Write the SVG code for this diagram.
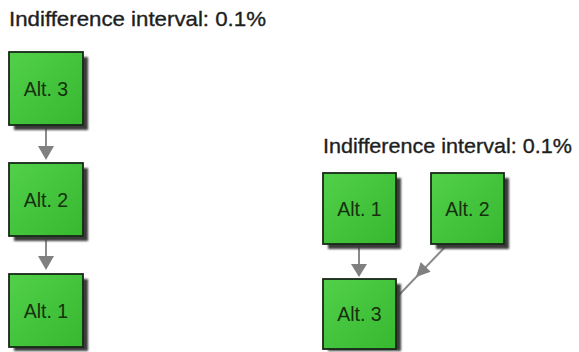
<svg xmlns="http://www.w3.org/2000/svg" width="579" height="352" viewBox="0 0 579 352">
<style>
.title{font-family:"Liberation Sans",Arial,sans-serif;font-size:21px;fill:#1e1e1e;stroke:#1e1e1e;stroke-width:0.35;}
.box{fill:url(#g);stroke:#182818;stroke-width:1.8;}
.shadow{fill:#3a3a3a;filter:url(#blur);}
.lbl{font-family:"Liberation Sans",Arial,sans-serif;font-size:19.5px;fill:#16300f;text-anchor:middle;}
.edge{stroke:#8a8a8a;stroke-width:2;fill:none;}
.head{fill:#808080;}
</style>
<defs>
<linearGradient id="g" x1="0" y1="0" x2="1" y2="1">
<stop offset="0" stop-color="#52d04a"/>
<stop offset="1" stop-color="#36b82f"/>
</linearGradient>
<filter id="blur" x="-20%" y="-20%" width="140%" height="140%"><feGaussianBlur stdDeviation="1"/></filter>
</defs>
<rect width="579" height="352" fill="#ffffff"/>
<text class="title" x="9" y="25.5" textLength="257" lengthAdjust="spacingAndGlyphs">Indifference interval: 0.1%</text>
<text class="title" x="323" y="152.5" textLength="249" lengthAdjust="spacingAndGlyphs">Indifference interval: 0.1%</text>
<g id="connectors">
<line class="edge" x1="46" y1="125" x2="46" y2="148"/>
<polygon class="head" points="38,146 54,146 46,160"/>
<line class="edge" x1="46" y1="237" x2="46" y2="258"/>
<polygon class="head" points="38,256 54,256 46,270"/>
<line class="edge" x1="359" y1="244" x2="359" y2="266"/>
<polygon class="head" points="351,264 367,264 359,277"/>
<line class="edge" x1="446" y1="246" x2="398" y2="296" stroke-width="1.6"/>
<polygon class="head" points="416,277 430.7,271.8 420.7,262"/>
</g>
<g id="left-alt3">
<rect class="shadow" x="14" y="57" width="74" height="73"/>
<rect class="box" x="9" y="52" width="74" height="73"/>
<text class="lbl" x="46" y="95.5">Alt. 3</text>
</g>
<g id="left-alt2">
<rect class="shadow" x="14" y="168" width="74" height="73"/>
<rect class="box" x="9" y="163" width="74" height="73"/>
<text class="lbl" x="46" y="206.5">Alt. 2</text>
</g>
<g id="left-alt1">
<rect class="shadow" x="14" y="279" width="74" height="72"/>
<rect class="box" x="9" y="274" width="74" height="73"/>
<text class="lbl" x="46" y="317.5">Alt. 1</text>
</g>
<g id="right-alt1">
<rect class="shadow" x="328" y="178" width="73" height="71"/>
<rect class="box" x="323" y="173" width="73" height="71"/>
<text class="lbl" x="359.5" y="215.5">Alt. 1</text>
</g>
<g id="right-alt2">
<rect class="shadow" x="436" y="178" width="73" height="71"/>
<rect class="box" x="431" y="173" width="73" height="71"/>
<text class="lbl" x="467.5" y="215.5">Alt. 2</text>
</g>
<g id="right-alt3">
<rect class="shadow" x="328" y="284" width="73" height="67"/>
<rect class="box" x="323" y="279" width="73" height="70"/>
<text class="lbl" x="359.5" y="321">Alt. 3</text>
</g>
</svg>
